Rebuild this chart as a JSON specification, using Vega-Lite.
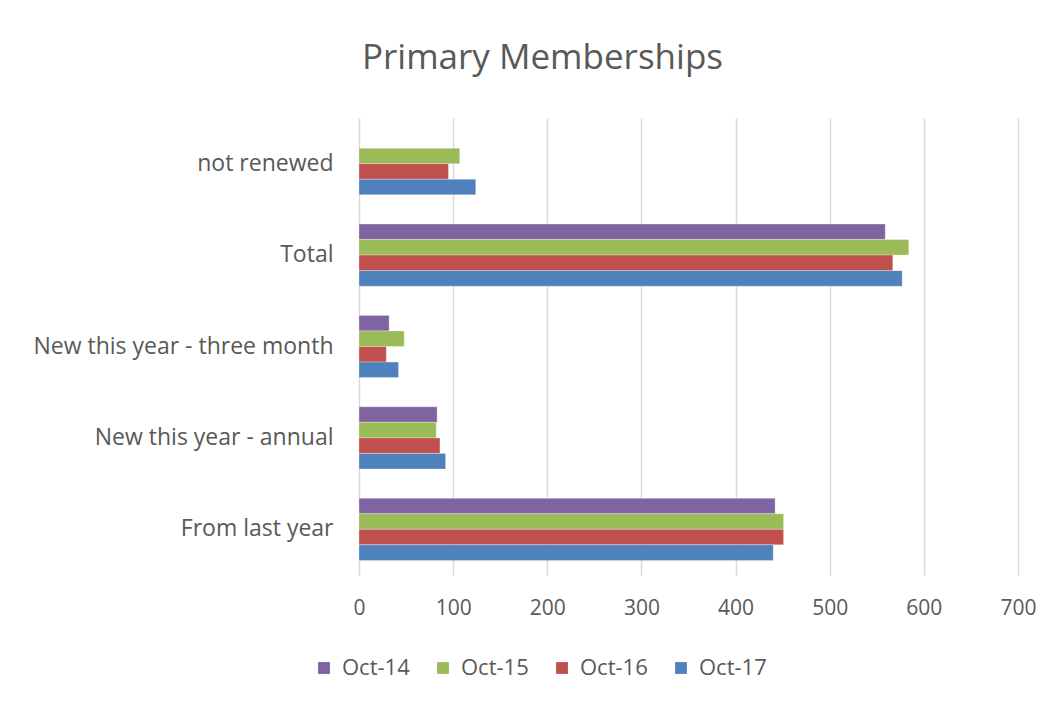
{
  "$schema": "https://vega.github.io/schema/vega-lite/v6.json",
  "autosize": {"type": "none"},
  "padding": {"left": 359, "top": 118, "right": 43, "bottom": 131},
  "width": 659,
  "height": 457,
  "background": "white",
  "title": {
    "text": "Primary Memberships",
    "font": "Open Sans",
    "fontSize": 35,
    "fontWeight": "normal",
    "color": "#595959",
    "anchor": "middle",
    "dx": -146,
    "offset": 42
  },
  "data": {
    "values": [
      {"category": "not renewed", "series": "Oct-15", "value": 107},
      {"category": "not renewed", "series": "Oct-16", "value": 95},
      {"category": "not renewed", "series": "Oct-17", "value": 124},
      {"category": "Total", "series": "Oct-14", "value": 559},
      {"category": "Total", "series": "Oct-15", "value": 584},
      {"category": "Total", "series": "Oct-16", "value": 567},
      {"category": "Total", "series": "Oct-17", "value": 577},
      {"category": "New this year - three month", "series": "Oct-14", "value": 32},
      {"category": "New this year - three month", "series": "Oct-15", "value": 48},
      {"category": "New this year - three month", "series": "Oct-16", "value": 29},
      {"category": "New this year - three month", "series": "Oct-17", "value": 42},
      {"category": "New this year - annual", "series": "Oct-14", "value": 83},
      {"category": "New this year - annual", "series": "Oct-15", "value": 82},
      {"category": "New this year - annual", "series": "Oct-16", "value": 86},
      {"category": "New this year - annual", "series": "Oct-17", "value": 92},
      {"category": "From last year", "series": "Oct-14", "value": 442},
      {"category": "From last year", "series": "Oct-15", "value": 451},
      {"category": "From last year", "series": "Oct-16", "value": 451},
      {"category": "From last year", "series": "Oct-17", "value": 440}
    ]
  },
  "mark": {"type": "bar", "stroke": "white", "strokeWidth": 0.5, "strokeOpacity": 0.6},
  "encoding": {
    "y": {
      "field": "category",
      "type": "nominal",
      "sort": ["not renewed", "Total", "New this year - three month", "New this year - annual", "From last year"],
      "scale": {"paddingInner": 0.32, "paddingOuter": 0.16},
      "axis": {
        "title": null,
        "ticks": false,
        "domain": false,
        "labelFont": "Open Sans",
        "labelFontSize": 23,
        "labelColor": "#595959",
        "labelPadding": 26,
        "labelLimit": 400
      }
    },
    "yOffset": {
      "field": "series",
      "type": "nominal",
      "scale": {"domain": ["Oct-14", "Oct-15", "Oct-16", "Oct-17"], "paddingInner": 0, "paddingOuter": 0}
    },
    "x": {
      "field": "value",
      "type": "quantitative",
      "scale": {"domain": [0, 700], "nice": false},
      "axis": {
        "title": null,
        "values": [0, 100, 200, 300, 400, 500, 600, 700],
        "ticks": false,
        "domain": false,
        "grid": true,
        "gridColor": "#D9D9D9",
        "gridWidth": 1.5,
        "labelFlush": false,
        "labelFont": "Open Sans",
        "labelFontSize": 21,
        "labelColor": "#595959",
        "labelPadding": 22
      }
    },
    "color": {
      "field": "series",
      "type": "nominal",
      "scale": {"domain": ["Oct-14", "Oct-15", "Oct-16", "Oct-17"], "range": ["#8064A2", "#9BBB59", "#C0504D", "#4F81BD"]},
      "legend": {
        "title": null,
        "orient": "none",
        "direction": "horizontal",
        "legendX": -46,
        "legendY": 539,
        "symbolType": "square",
        "symbolSize": 140,
        "symbolStrokeWidth": 0,
        "labelFont": "Open Sans",
        "labelFontSize": 22,
        "labelColor": "#595959",
        "labelOffset": 7,
        "columnPadding": 22
      }
    }
  },
  "config": {"view": {"stroke": null}}
}
